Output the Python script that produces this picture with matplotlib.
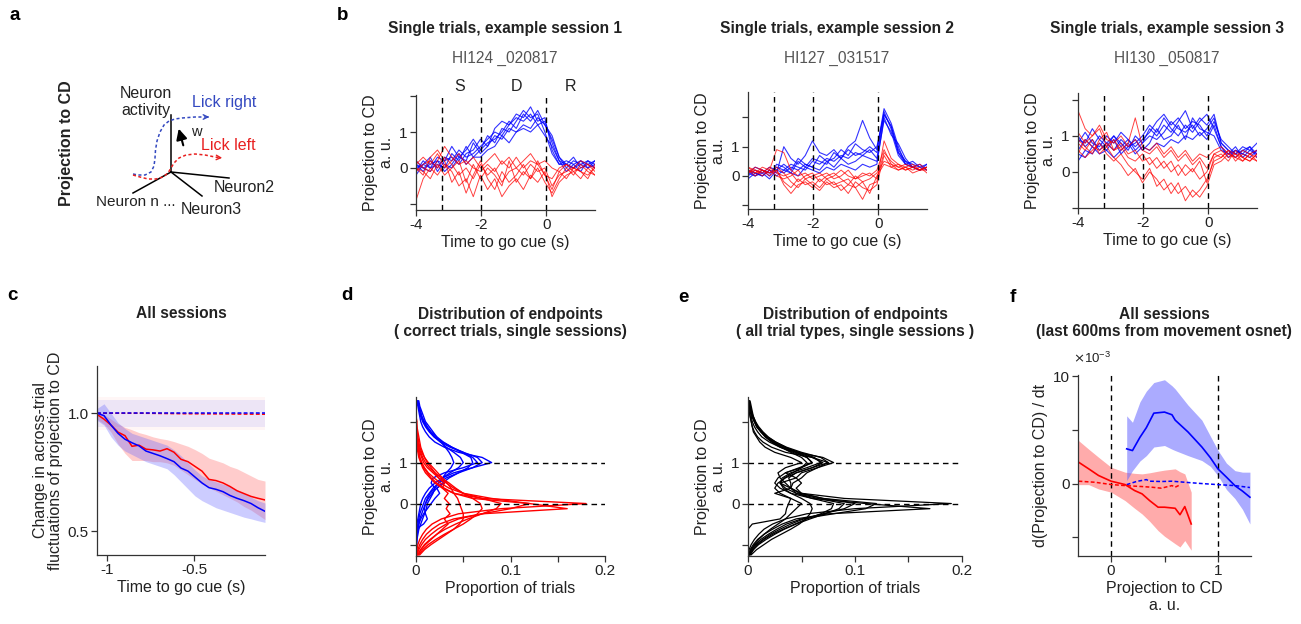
import numpy as np
import matplotlib
matplotlib.use("Agg")
import matplotlib.pyplot as plt
from matplotlib.transforms import blended_transform_factory

plt.rcParams['font.family'] = ['Liberation Sans', 'DejaVu Sans']
plt.rcParams['font.size'] = 10
plt.rcParams['axes.linewidth'] = 0.9
plt.rcParams['axes.unicode_minus'] = False

# ---------------- data ----------------
# panel b: single trials (projection to CD), time grid -4 .. 1.5 s
t_trials = np.linspace(-4.0, 1.5, 26)
s1_blue = [
    [0.1, -0.1, 0.2, 0.0, 0.3, 0.2, 0.5, 0.3, 0.4, 0.6, 0.8, 1.0, 0.9, 1.2, 1.4, 1.3, 1.5, 1.2, 1.3, 0.7, 0.2, 0.1, 0.0, 0.2, 0.1, 0.0],
    [-0.1, 0.2, 0.0, 0.1, 0.0, 0.4, 0.2, 0.6, 0.3, 0.5, 0.9, 0.7, 1.1, 1.0, 1.3, 1.6, 1.4, 1.5, 1.0, 0.4, 0.1, 0.2, 0.1, -0.1, 0.2, 0.1],
    [0.2, 0.0, -0.1, 0.2, 0.1, 0.0, 0.3, 0.2, 0.7, 0.4, 0.6, 0.9, 0.8, 1.1, 1.0, 1.2, 1.1, 1.4, 1.2, 0.8, 0.3, 0.0, 0.2, 0.1, 0.0, 0.2],
    [0.0, 0.1, 0.3, -0.1, 0.2, 0.3, 0.1, 0.4, 0.5, 0.8, 0.6, 1.1, 1.3, 1.2, 1.5, 1.4, 1.7, 1.3, 1.4, 0.5, 0.1, 0.1, 0.3, 0.0, 0.1, 0.2],
    [0.1, 0.0, 0.1, 0.2, -0.1, 0.1, 0.4, 0.1, 0.3, 0.3, 0.5, 0.6, 0.9, 0.7, 1.0, 1.1, 1.0, 1.2, 0.9, 0.6, 0.2, -0.1, 0.1, 0.2, 0.0, 0.1],
    [-0.2, 0.1, 0.0, 0.3, 0.2, 0.6, 0.3, 0.5, 0.8, 0.5, 0.7, 0.8, 1.0, 1.3, 1.1, 1.5, 1.3, 1.6, 1.2, 0.9, 0.3, 0.1, 0.0, 0.1, 0.2, 0.0],
]
s1_red = [
    [-0.1, 0.1, 0.2, 0.0, 0.3, 0.1, -0.2, 0.0, -0.3, 0.1, -0.2, 0.0, -0.4, -0.1, 0.0, -0.2, 0.1, -0.1, 0.0, -0.5, -0.2, -0.1, 0.0, -0.1, -0.2, 0.0],
    [0.0, -0.2, 0.3, 0.5, 0.2, -0.4, -0.1, -0.7, -0.2, 0.2, -0.3, -0.6, -0.1, -0.4, -0.2, 0.1, -0.3, 0.0, -0.4, -0.7, -0.3, 0.0, -0.2, 0.1, -0.1, -0.2],
    [0.2, 0.0, -0.1, 0.2, 0.6, 0.3, 0.1, 0.2, 0.0, -0.1, 0.1, -0.1, 0.2, 0.0, 0.3, 0.0, 0.2, 0.1, -0.2, -0.3, 0.0, 0.1, -0.1, 0.0, 0.1, -0.1],
    [-0.9, -0.3, 0.0, -0.2, 0.1, -0.1, -0.5, -0.3, -0.8, -0.2, -0.6, -0.3, -0.8, -0.5, -0.3, -0.6, -0.2, -0.4, -0.1, -0.8, -0.4, -0.2, -0.1, -0.3, 0.0, -0.2],
    [0.1, 0.3, 0.1, 0.4, 0.0, 0.2, 0.4, 0.1, 0.3, 0.0, 0.2, 0.4, 0.1, 0.3, 0.0, 0.2, 0.4, 0.1, 0.2, 0.0, -0.1, 0.1, 0.0, 0.2, 0.1, 0.0],
    [0.0, -0.1, -0.3, 0.1, -0.2, 0.0, 0.2, -0.4, 0.1, -0.3, 0.0, -0.2, -0.5, 0.2, -0.4, -0.1, -0.3, 0.2, -0.2, -0.6, -0.1, -0.3, 0.0, -0.1, -0.3, 0.1],
]
s2_blue = [
    [0.1, 0.0, 0.2, 0.1, 0.3, 0.2, 0.4, 0.3, 0.2, 0.5, 0.4, 0.6, 0.5, 0.7, 0.6, 0.8, 0.7, 0.9, 0.6, 2.1, 1.7, 0.9, 0.5, 0.3, 0.4, 0.2],
    [0.2, 0.1, 0.0, 0.2, 0.1, 1.0, 0.6, 0.4, 0.7, 1.2, 0.8, 0.7, 0.9, 0.6, 1.0, 1.2, 1.9, 1.3, 0.9, 2.3, 1.8, 1.0, 0.4, 0.3, 0.2, 0.3],
    [0.0, 0.2, 0.1, -0.1, 0.2, 0.1, 0.3, 0.2, 0.4, 0.3, 0.2, 0.5, 0.3, 0.6, 0.4, 0.5, 0.7, 0.6, 0.5, 1.9, 1.5, 0.7, 0.4, 0.3, 0.2, 0.4],
    [0.1, 0.3, 0.2, 0.0, 0.4, 0.3, 0.1, 0.5, 0.3, 0.6, 0.5, 0.4, 0.8, 0.6, 0.9, 0.7, 0.8, 1.0, 0.8, 2.2, 1.6, 0.8, 0.5, 0.4, 0.3, 0.2],
    [-0.1, 0.1, 0.0, 0.2, 0.0, 0.2, 0.1, 0.0, 0.3, 0.2, 0.1, 0.3, 0.2, 0.4, 0.3, 0.2, 0.4, 0.3, 0.4, 2.0, 1.4, 1.1, 0.6, 0.3, 0.2, 0.3],
    [0.2, 0.0, 0.1, 0.3, 0.2, 0.4, 0.2, 0.6, 0.4, 0.3, 0.7, 0.5, 0.6, 0.9, 0.7, 1.1, 0.9, 0.8, 1.0, 2.1, 1.7, 0.8, 0.4, 0.5, 0.3, 0.4],
]
s2_red = [
    [0.2, 0.1, 0.3, 0.2, 0.9, 0.8, 0.2, 0.0, 0.1, -0.1, 0.0, 0.1, -0.1, 0.0, 0.2, -0.1, 0.0, 0.1, -0.1, 0.8, 0.5, 0.3, 0.4, 0.3, 0.2, 0.3],
    [0.1, 0.3, 0.2, 0.1, 0.2, -0.3, -0.6, -0.3, -0.2, -0.4, -0.1, -0.3, -0.2, -0.5, -0.3, -0.4, -0.8, -0.3, -0.2, 1.2, 0.6, 0.4, 0.3, 0.2, 0.3, 0.1],
    [0.3, 0.2, 0.1, 0.3, 0.1, 0.0, 0.1, -0.2, 0.0, 0.1, -0.2, 0.0, 0.1, -0.1, -0.3, 0.0, -0.2, -0.1, 0.1, 0.5, 0.4, 0.2, 0.3, 0.4, 0.2, 0.2],
    [0.2, 0.0, 0.2, 0.1, 0.3, 0.1, -0.2, -0.4, -0.1, -0.3, -0.5, -0.2, -0.4, -0.3, -0.6, -0.2, -0.4, -0.5, -0.3, 0.7, 0.3, 0.2, 0.3, 0.1, 0.2, 0.3],
    [0.1, 0.2, 0.0, 0.2, 0.0, -0.1, 0.0, 0.2, -0.1, 0.0, 0.1, -0.1, 0.0, 0.2, 0.0, -0.1, 0.1, 0.0, 0.2, 0.9, 0.4, 0.3, 0.2, 0.3, 0.4, 0.2],
    [0.3, 0.1, 0.2, 0.0, 0.2, -0.2, -0.4, -0.1, -0.3, -0.2, -0.4, -0.1, -0.3, -0.2, -0.1, -0.4, -0.2, -0.6, 0.0, 0.4, 0.3, 0.4, 0.2, 0.3, 0.2, 0.3],
]
s3_blue = [
    [0.6, 0.9, 0.7, 1.0, 0.8, 0.6, 0.9, 0.7, 0.8, 1.0, 1.3, 1.1, 1.5, 1.2, 1.0, 1.3, 1.1, 1.4, 1.6, 1.2, 0.7, 0.5, 0.6, 0.5, 0.7, 0.5],
    [1.0, 0.7, 0.9, 0.6, 0.8, 1.0, 0.7, 0.9, 0.6, 0.8, 1.0, 0.9, 1.1, 1.4, 1.2, 1.1, 1.3, 1.0, 1.2, 1.5, 0.8, 0.6, 0.4, 0.6, 0.5, 0.6],
    [0.3, 0.6, 0.5, 0.8, 0.6, 0.9, 0.5, 0.7, 0.9, 0.6, 0.8, 1.2, 0.9, 1.0, 1.3, 0.9, 1.5, 1.2, 1.1, 1.0, 0.6, 0.5, 0.7, 0.4, 0.6, 0.5],
    [0.8, 1.1, 0.8, 0.7, 1.0, 0.8, 1.1, 0.9, 0.7, 0.9, 1.1, 1.4, 1.6, 1.3, 1.5, 1.2, 1.4, 1.3, 1.0, 1.4, 0.9, 0.7, 0.5, 0.7, 0.6, 0.8],
    [0.5, 0.4, 0.7, 0.5, 0.6, 0.4, 0.6, 0.8, 0.5, 0.7, 0.6, 0.8, 0.7, 0.9, 0.8, 1.0, 0.9, 1.1, 0.9, 1.3, 0.7, 0.4, 0.6, 0.5, 0.4, 0.6],
    [0.9, 0.8, 1.2, 0.9, 0.7, 1.0, 0.8, 0.6, 1.0, 0.8, 1.2, 1.0, 1.3, 1.1, 1.4, 1.7, 1.2, 1.5, 1.3, 1.6, 0.8, 0.6, 0.5, 0.6, 0.7, 0.4],
]
s3_red = [
    [1.7, 1.2, 1.0, 1.3, 0.9, 0.8, 1.0, 0.7, 0.9, 0.6, 0.5, 0.7, 0.4, 0.6, 0.3, 0.5, 0.2, 0.4, 0.1, 0.5, 0.6, 0.4, 0.5, 0.3, 0.5, 0.4],
    [0.8, 0.6, 0.9, 0.5, 0.7, 0.4, 0.2, -0.1, 0.1, -0.3, 0.0, -0.2, -0.5, -0.3, -0.6, -0.4, -0.7, -0.5, -0.2, 0.3, 0.4, 0.6, 0.3, 0.5, 0.4, 0.3],
    [0.5, 0.9, 0.7, 0.6, 0.8, 0.6, 0.7, 0.4, 0.3, 0.5, 0.2, 0.4, 0.1, 0.3, -0.1, 0.2, 0.0, 0.3, -0.3, 0.4, 0.5, 0.3, 0.6, 0.4, 0.3, 0.5],
    [1.1, 0.8, 1.0, 1.2, 0.7, 0.9, 0.6, 0.8, 1.5, 0.7, 0.6, 0.8, 0.5, 0.7, 0.4, 0.6, 0.3, 0.5, 0.4, 0.6, 0.7, 0.5, 0.4, 0.6, 0.5, 0.6],
    [0.6, 0.4, 0.6, 0.8, 0.5, 0.3, 0.5, 0.2, 0.0, -0.2, 0.1, -0.4, -0.2, -0.6, -0.3, -0.8, -0.5, -0.7, -0.4, 0.2, 0.3, 0.5, 0.4, 0.3, 0.5, 0.3],
    [0.9, 0.7, 0.5, 0.9, 1.1, 0.6, 0.8, 0.5, 0.6, 0.3, 0.4, 0.1, 0.3, 0.0, 0.2, -0.1, 0.1, -0.2, 0.0, 0.5, 0.4, 0.6, 0.5, 0.4, 0.3, 0.5],
]
session_titles = ["Single trials, example session 1", "Single trials, example session 2",
                  "Single trials, example session 3"]
session_ids = ["HI124 _020817", "HI127 _031517", "HI130 _050817"]
session_ylabels = ["Projection to CD\na. u.", "Projection to CD\na.u.", "Projection to CD\na. u."]
epoch_bounds = [-3.2, -2.0, 0.0]
epoch_names = ["S", "D", "R"]
epoch_centers = [-2.65, -0.92, 0.74]

# panel c: across-trial fluctuations
t_c = np.linspace(-1.06, -0.09, 25)
c_red = [0.995, 0.975, 0.95, 0.92, 0.905, 0.86, 0.865, 0.848, 0.845, 0.84, 0.85, 0.835, 0.805,
         0.795, 0.775, 0.755, 0.72, 0.715, 0.705, 0.69, 0.672, 0.66, 0.648, 0.64, 0.633]
c_red_hi = [1.01, 0.995, 0.975, 0.955, 0.94, 0.93, 0.918, 0.91, 0.9, 0.893, 0.888, 0.88, 0.87,
            0.86, 0.846, 0.83, 0.81, 0.8, 0.79, 0.775, 0.765, 0.75, 0.735, 0.72, 0.713]
c_red_lo = [0.975, 0.955, 0.92, 0.87, 0.83, 0.8, 0.80, 0.8, 0.795, 0.795, 0.79, 0.78, 0.76,
            0.74, 0.72, 0.7, 0.685, 0.67, 0.655, 0.64, 0.625, 0.605, 0.59, 0.57, 0.55]
c_blue = [1.0, 0.99, 0.95, 0.915, 0.89, 0.875, 0.862, 0.84, 0.83, 0.82, 0.808, 0.795, 0.768,
          0.755, 0.73, 0.705, 0.685, 0.678, 0.668, 0.652, 0.64, 0.63, 0.618, 0.6, 0.585]
c_blue_hi = [1.02, 1.04, 1.0, 0.96, 0.935, 0.915, 0.905, 0.895, 0.885, 0.875, 0.865, 0.845, 0.82,
             0.79, 0.76, 0.735, 0.72, 0.71, 0.7, 0.69, 0.675, 0.66, 0.645, 0.63, 0.62]
c_blue_lo = [0.97, 0.95, 0.9, 0.865, 0.84, 0.825, 0.81, 0.795, 0.785, 0.775, 0.765, 0.74, 0.71,
             0.68, 0.65, 0.63, 0.615, 0.6, 0.59, 0.58, 0.57, 0.56, 0.553, 0.545, 0.538]
t_c_ctrl = [-1.06, -0.8, -0.55, -0.3, -0.09]
c_red_ctrl = [1.0, 1.0, 0.998, 0.997, 0.996]
c_red_ctrl_hi = [1.067, 1.067, 1.067, 1.067, 1.067]
c_red_ctrl_lo = [0.93, 0.93, 0.93, 0.93, 0.93]
c_blue_ctrl = [1.0, 1.0, 1.0, 1.0, 1.0]
c_blue_ctrl_hi = [1.056, 1.056, 1.056, 1.056, 1.056]
c_blue_ctrl_lo = [0.94, 0.94, 0.94, 0.94, 0.94]

# panels d, e: distributions of endpoints (proportion of trials vs projection)
y_dist = np.linspace(-1.25, 2.5, 31)
d_red = [
    [0.0, 0.001, 0.002, 0.004, 0.007, 0.011, 0.017, 0.027, 0.045, 0.09,
     0.18, 0.07, 0.04, 0.028, 0.02, 0.015, 0.01, 0.007, 0.005, 0.003,
     0.002, 0.001, 0.001, 0, 0, 0, 0, 0, 0, 0, 0],
    [0.001, 0.002, 0.004, 0.007, 0.011, 0.017, 0.025, 0.04, 0.07, 0.16,
     0.12, 0.06, 0.04, 0.03, 0.022, 0.016, 0.012, 0.008, 0.006, 0.004,
     0.003, 0.002, 0.001, 0.001, 0, 0, 0, 0, 0, 0, 0],
    [0.001, 0.003, 0.006, 0.01, 0.016, 0.023, 0.032, 0.045, 0.07, 0.1,
     0.12, 0.08, 0.05, 0.035, 0.026, 0.019, 0.013, 0.009, 0.006, 0.004,
     0.003, 0.002, 0.001, 0.001, 0, 0, 0, 0, 0, 0, 0],
    [0.002, 0.005, 0.009, 0.015, 0.022, 0.031, 0.042, 0.055, 0.07, 0.085,
     0.09, 0.07, 0.05, 0.04, 0.032, 0.024, 0.018, 0.012, 0.008, 0.006,
     0.004, 0.003, 0.002, 0.001, 0.001, 0, 0, 0, 0, 0, 0],
    [0.003, 0.007, 0.013, 0.021, 0.03, 0.04, 0.05, 0.058, 0.065, 0.07,
     0.068, 0.06, 0.05, 0.042, 0.035, 0.027, 0.02, 0.014, 0.01, 0.007,
     0.005, 0.003, 0.002, 0.001, 0.001, 0, 0, 0, 0, 0, 0],
    [0.004, 0.009, 0.016, 0.024, 0.032, 0.04, 0.046, 0.05, 0.05, 0.048,
     0.046, 0.044, 0.04, 0.037, 0.033, 0.028, 0.023, 0.018, 0.013, 0.009,
     0.006, 0.004, 0.003, 0.002, 0.001, 0.001, 0, 0, 0, 0, 0],
    [0.002, 0.005, 0.01, 0.016, 0.022, 0.028, 0.034, 0.03, 0.036, 0.032,
     0.035, 0.03, 0.034, 0.028, 0.03, 0.024, 0.02, 0.016, 0.012, 0.009,
     0.007, 0.005, 0.004, 0.003, 0.002, 0.001, 0.001, 0, 0, 0, 0],
]
d_blue = [
    [0, 0, 0, 0, 0, 0.001, 0.001, 0.002, 0.003, 0.004,
     0.005, 0.007, 0.01, 0.014, 0.02, 0.028, 0.04, 0.06, 0.08, 0.07,
     0.045, 0.03, 0.02, 0.014, 0.01, 0.007, 0.005, 0.004, 0.003, 0.002, 0.001],
    [0, 0, 0, 0, 0.001, 0.001, 0.002, 0.003, 0.004, 0.006,
     0.008, 0.01, 0.014, 0.018, 0.024, 0.032, 0.045, 0.06, 0.07, 0.065,
     0.05, 0.036, 0.026, 0.019, 0.014, 0.01, 0.007, 0.005, 0.004, 0.003, 0.002],
    [0, 0, 0, 0.001, 0.001, 0.002, 0.003, 0.004, 0.006, 0.008,
     0.01, 0.013, 0.017, 0.022, 0.028, 0.035, 0.045, 0.055, 0.06, 0.058,
     0.048, 0.038, 0.029, 0.022, 0.016, 0.012, 0.009, 0.006, 0.005, 0.003, 0.002],
    [0, 0, 0, 0, 0.001, 0.002, 0.003, 0.005, 0.008, 0.012,
     0.016, 0.02, 0.025, 0.022, 0.03, 0.028, 0.036, 0.045, 0.05, 0.047,
     0.04, 0.032, 0.026, 0.02, 0.015, 0.011, 0.008, 0.006, 0.004, 0.003, 0.002],
    [0, 0, 0.001, 0.001, 0.002, 0.003, 0.005, 0.007, 0.009, 0.011,
     0.012, 0.015, 0.018, 0.02, 0.024, 0.028, 0.032, 0.037, 0.04, 0.038,
     0.035, 0.031, 0.027, 0.022, 0.018, 0.014, 0.01, 0.008, 0.006, 0.004, 0.003],
    [0, 0, 0, 0, 0, 0, 0.008, 0.012, 0.01, 0.009,
     0.01, 0.012, 0.015, 0.02, 0.016, 0.018, 0.03, 0.05, 0.065, 0.06,
     0.05, 0.038, 0.028, 0.02, 0.015, 0.011, 0.008, 0.006, 0.004, 0.003, 0.002],
]
e_all = [
    [0.0, 0.001, 0.003, 0.006, 0.01, 0.015, 0.023, 0.035, 0.055, 0.1,
     0.19, 0.09, 0.05, 0.04, 0.035, 0.03, 0.028, 0.035, 0.05, 0.04,
     0.025, 0.016, 0.011, 0.008, 0.005, 0.004, 0.003, 0.002, 0.001, 0.001, 0],
    [0.001, 0.002, 0.005, 0.009, 0.015, 0.023, 0.032, 0.045, 0.075, 0.17,
     0.11, 0.06, 0.045, 0.04, 0.04, 0.038, 0.045, 0.06, 0.075, 0.06,
     0.035, 0.022, 0.014, 0.009, 0.006, 0.004, 0.003, 0.002, 0.001, 0.001, 0],
    [0.001, 0.003, 0.007, 0.012, 0.019, 0.027, 0.036, 0.05, 0.08, 0.11,
     0.12, 0.07, 0.05, 0.045, 0.05, 0.045, 0.05, 0.065, 0.08, 0.07,
     0.045, 0.03, 0.02, 0.013, 0.009, 0.006, 0.004, 0.003, 0.002, 0.001, 0.001],
    [0.002, 0.005, 0.01, 0.017, 0.025, 0.034, 0.045, 0.058, 0.072, 0.085,
     0.09, 0.065, 0.045, 0.035, 0.03, 0.032, 0.04, 0.055, 0.068, 0.062,
     0.048, 0.034, 0.024, 0.017, 0.012, 0.008, 0.006, 0.004, 0.003, 0.002, 0.001],
    [0.002, 0.005, 0.009, 0.015, 0.023, 0.033, 0.044, 0.055, 0.068, 0.078,
     0.08, 0.06, 0.04, 0.03, 0.025, 0.028, 0.035, 0.048, 0.06, 0.055,
     0.042, 0.03, 0.022, 0.016, 0.012, 0.008, 0.006, 0.004, 0.003, 0.002, 0.001],
    [0.003, 0.008, 0.015, 0.022, 0.031, 0.04, 0.048, 0.054, 0.058, 0.06,
     0.058, 0.05, 0.04, 0.033, 0.03, 0.034, 0.042, 0.05, 0.055, 0.05,
     0.04, 0.031, 0.024, 0.018, 0.013, 0.009, 0.007, 0.005, 0.003, 0.002, 0.001],
    [0.001, 0.003, 0.006, 0.01, 0.015, 0.021, 0.028, 0.035, 0.04, 0.045,
     0.05, 0.04, 0.025, 0.04, 0.03, 0.045, 0.035, 0.05, 0.06, 0.055,
     0.045, 0.035, 0.026, 0.019, 0.014, 0.01, 0.007, 0.005, 0.004, 0.003, 0.002],
    [0, 0, 0, 0, 0, 0, 0.004, 0.03, 0.035, 0.036,
     0.038, 0.04, 0.03, 0.025, 0.028, 0.035, 0.045, 0.06, 0.07, 0.06,
     0.045, 0.032, 0.023, 0.017, 0.012, 0.009, 0.006, 0.004, 0.003, 0.002, 0.001],
    [0.001, 0.004, 0.008, 0.014, 0.021, 0.03, 0.04, 0.052, 0.07, 0.09,
     0.1, 0.07, 0.048, 0.04, 0.042, 0.05, 0.055, 0.065, 0.075, 0.068,
     0.05, 0.036, 0.026, 0.018, 0.013, 0.009, 0.006, 0.004, 0.003, 0.002, 0.001],
]
dist_reference_levels = [0, 1]

# panel f: d(projection)/dt vs projection (units of 1e-3)
f_blue_x = [0.146, 0.2, 0.27, 0.33, 0.4, 0.5, 0.57, 0.6, 0.72, 0.85, 0.93, 1.0, 1.08, 1.16, 1.23, 1.3]
f_blue = [3.23, 3.07, 4.3, 5.2, 6.55, 6.65, 6.4, 5.9, 4.8, 3.4, 2.4, 1.37, 0.6, -0.2, -0.7, -1.27]
f_blue_hi = [6.3, 5.7, 7.6, 8.6, 9.4, 9.66, 9.1, 8.8, 7.3, 5.9, 4.4, 3.1, 1.9, 1.2, 1.06, 1.06]
f_blue_lo = [0.28, 1.2, 2.1, 2.6, 3.4, 3.54, 3.2, 3.07, 2.6, 2.14, 1.6, 0.75, -0.55, -1.4, -2.4, -3.76]
f_red_x = [-0.305, -0.21, -0.118, 0.0, 0.13, 0.22, 0.29, 0.36, 0.44, 0.5, 0.6, 0.645, 0.69, 0.75]
f_red = [1.99, 1.37, 0.75, 0.22, -0.09, -0.65, -0.96, -1.58, -2.2, -2.2, -2.3, -2.9, -2.14, -3.76]
f_red_hi = [4.0, 3.2, 2.45, 1.52, 1.06, 0.95, 0.9, 1.0, 1.15, 1.25, 1.37, 1.1, 0.9, -0.8]
f_red_lo = [-0.1, -0.1, -0.5, -0.8, -1.58, -2.3, -2.83, -3.5, -4.38, -4.9, -5.6, -5.9, -5.3, -6.2]
f_red_ctrl_x = [-0.305, -0.15, 0.0, 0.13, 0.29, 0.38, 0.47, 0.57, 0.6, 0.645]
f_red_ctrl = [0.22, 0.12, -0.09, -0.19, -0.28, -0.34, -0.43, -0.19, -0.34, -0.12]
f_blue_ctrl_x = [0.146, 0.24, 0.33, 0.36, 0.47, 0.57, 0.69, 0.85, 1.0, 1.16, 1.3]
f_blue_ctrl = [-0.1, 0.2, 0.37, 0.22, 0.19, 0.22, 0.12, 0.0, -0.1, -0.19, -0.37]
f_ref_x = [0, 1]

# ---------------- figure ----------------
W, H = 1301, 624
fig = plt.figure(figsize=(W / 100, H / 100), dpi=100)
TXT = '#222222'
BLUE = '#0000ff'
RED = '#ff0000'
LAB = 11.5
TTL = 11.2


def px_axes(l, t, r, b):
    return fig.add_axes([l / W, 1 - b / H, (r - l) / W, (b - t) / H])


def style(ax):
    for s in ['top', 'right']:
        ax.spines[s].set_visible(False)
    for s in ['left', 'bottom']:
        ax.spines[s].set_color('#333333')
        ax.spines[s].set_linewidth(0.9)
    ax.tick_params(direction='out', length=4, width=0.9, colors='#333333',
                   labelsize=11, labelcolor=TXT, pad=2)
    ax.set_facecolor('none')


def ftext(x, y, s, **kw):
    kw.setdefault('color', TXT)
    fig.text(x / W, 1 - y / H, s, **kw)


# overlay for panel labels and schematic
ov = fig.add_axes([0, 0, 1, 1], zorder=-1)
ov.set_xlim(0, W)
ov.set_ylim(H, 0)
ov.axis('off')

for lab, (x, y) in zip('abcdef', [(15, 15), (343, 15), (12, 296), (347, 296), (683, 297), (1013, 297)]):
    ov.text(x, y, lab, fontsize=13.5, fontweight='bold', ha='center', va='center', color='black')

# ---- panel a schematic ----
ov.plot([171, 171], [115, 172], color='black', lw=1.1)
ov.plot([171, 229], [172, 178], color='black', lw=1.1)
ov.plot([171, 202], [172, 196], color='black', lw=1.1)
ov.plot([171, 133], [172, 193], color='black', lw=1.1)
bc = np.array([(133, 174), (138, 175), (145, 175), (151, 172), (154, 166), (155, 158), (155.5, 150),
               (157, 141), (160, 132), (164, 125), (169, 121), (175, 119), (182, 118), (195, 117), (208, 117)])
ov.plot(bc[:, 0], bc[:, 1], color='#3348c0', lw=1.1, ls=(0, (2, 1.6)))
ov.annotate('', xy=(212, 117), xytext=(204, 117),
            arrowprops=dict(arrowstyle='->', color='#3348c0', lw=1.0, mutation_scale=8))
rc = np.array([(133, 175), (140, 177), (148, 179), (156, 179), (163, 177), (168, 173), (171, 168),
               (174, 163), (179, 158), (186, 155), (195, 154), (205, 155), (215, 157), (221, 158)])
ov.plot(rc[:, 0], rc[:, 1], color='#e82020', lw=1.1, ls=(0, (2, 1.6)))
ov.annotate('', xy=(225, 158), xytext=(217, 157.5),
            arrowprops=dict(arrowstyle='->', color='#e82020', lw=1.0, mutation_scale=8))
ov.annotate('', xy=(178, 126), xytext=(184, 148),
            arrowprops=dict(arrowstyle='-|>', color='black', lw=1.5, mutation_scale=16))
ov.text(146, 102, 'Neuron\nactivity', fontsize=11.5, ha='center', va='center', color=TXT, linespacing=1.1)
ov.text(192, 103, 'Lick right', fontsize=11.5, ha='left', va='center', color='#3348c0')
ov.text(191, 132, 'w', fontsize=10.5, ha='left', va='center', color=TXT)
ov.text(201, 146, 'Lick left', fontsize=11.5, ha='left', va='center', color='#e82020')
ov.text(214, 187, 'Neuron2', fontsize=11.5, ha='left', va='center', color=TXT)
ov.text(96, 202, 'Neuron n ...', fontsize=11, ha='left', va='center', color=TXT)
ov.text(181, 210, 'Neuron3', fontsize=11.5, ha='left', va='center', color=TXT)
ov.text(66, 143, 'Projection to CD', fontsize=11.5, fontweight='bold', rotation=90,
        ha='center', va='center', color=TXT)

# ---- panel b ----
b_boxes = [(416, 95, 595, 210), (748, 92, 927, 209), (1078, 93, 1257, 208)]
b_ylims = [(-1.17, 2.03), (-1.13, 2.87), (-1.0, 2.19)]
b_centers = [505, 837, 1167]
sessions = [(s1_blue, s1_red), (s2_blue, s2_red), (s3_blue, s3_red)]
for i, (box, yl, (blues, reds)) in enumerate(zip(b_boxes, b_ylims, sessions)):
    ax = px_axes(*box)
    style(ax)
    for tr in blues:
        ax.plot(t_trials, tr, color=BLUE, lw=0.8, alpha=0.8)
    for tr in reds:
        ax.plot(t_trials, tr, color=RED, lw=0.7, alpha=0.75)
    for xb in epoch_bounds:
        ax.axvline(xb, color='black', lw=1.0, ls=(0, (4, 3)))
    ax.set_xlim(-4, 1.5)
    ax.set_ylim(*yl)
    ax.set_xticks([-4, -2, 0])
    ax.set_xticklabels(['-4', '-2', '0'])
    ax.set_yticks([-1, 0, 1, 2])
    ax.set_yticklabels(['', '0', '1', ''])
    ax.set_xlabel('Time to go cue (s)', fontsize=LAB, color=TXT, labelpad=2)
    ax.set_ylabel(session_ylabels[i], fontsize=LAB, color=TXT, labelpad=4, linespacing=1.05)
    ftext(b_centers[i], 28, session_titles[i], fontsize=TTL, fontweight='bold', ha='center', va='center')
    ftext(b_centers[i], 58, session_ids[i], fontsize=TTL, ha='center', va='center', color='#555555')
    if i == 0:
        tr_ = blended_transform_factory(ax.transData, ax.transAxes)
        for xc, nm in zip(epoch_centers, epoch_names):
            ax.text(xc, 1.07, nm, transform=tr_, ha='center', va='center', fontsize=11.5, color=TXT)

# ---- panel c ----
axc = px_axes(97, 366, 265, 555)
style(axc)
axc.fill_between(t_c_ctrl, c_red_ctrl_lo, c_red_ctrl_hi, color='#ff9090', alpha=0.08, lw=0)
axc.fill_between(t_c_ctrl, c_blue_ctrl_lo, c_blue_ctrl_hi, color='#6060ff', alpha=0.11, lw=0)
axc.fill_between(t_c, c_red_lo, c_red_hi, color='#ff6666', alpha=0.33, lw=0)
axc.fill_between(t_c, c_blue_lo, c_blue_hi, color='#6666ff', alpha=0.33, lw=0)
axc.plot(t_c_ctrl, c_red_ctrl, color=RED, lw=1.1, ls=(0, (2.5, 1.5)))
axc.plot(t_c_ctrl, c_blue_ctrl, color=BLUE, lw=1.1, ls=(0, (2.5, 1.5)))
axc.plot(t_c, c_red, color=RED, lw=1.1)
axc.plot(t_c, c_blue, color=BLUE, lw=1.1)
axc.set_xlim(-1.06, -0.09)
axc.set_ylim(0.4, 1.2)
axc.set_xticks([-1, -0.5])
axc.set_xticklabels(['-1', '-0.5'])
axc.set_yticks([0.5, 1.0])
axc.set_yticklabels(['0.5', '1.0'])
axc.set_xlabel('Time to go cue (s)', fontsize=LAB, color=TXT, labelpad=2)
axc.set_ylabel('Change in across-trial\nfluctuations of projection to CD', fontsize=LAB,
               color=TXT, labelpad=3, linespacing=1.05)
ftext(181, 313, 'All sessions', fontsize=TTL, fontweight='bold', ha='center', va='center')

# ---- panels d, e ----
for box, center, title in [((416, 397, 605, 556), 510, 'Distribution of endpoints\n( correct trials, single sessions)'),
                           ((748, 397, 962, 556), 855, 'Distribution of endpoints\n( all trial types, single sessions )')]:
    ax = px_axes(*box)
    style(ax)
    if center == 510:
        for cv in d_blue:
            ax.plot(cv, y_dist, color=BLUE, lw=1.0)
        for cv in d_red:
            ax.plot(cv, y_dist, color=RED, lw=1.0)
    else:
        for cv in e_all:
            ax.plot(cv, y_dist, color='black', lw=0.9)
    for yv in dist_reference_levels:
        ax.plot([0, 0.2], [yv, yv], color='black', lw=1.0, ls=(0, (4, 3)))
    ax.set_xlim(0, 0.2)
    ax.set_ylim(-1.28, 2.6)
    ax.set_xticks([0, 0.05, 0.1, 0.15, 0.2])
    ax.set_xticklabels(['0', '', '0.1', '', '0.2'])
    ax.set_yticks([-1, 0, 1, 2])
    ax.set_yticklabels(['', '0', '1', ''])
    ax.set_xlabel('Proportion of trials', fontsize=LAB, color=TXT, labelpad=2)
    ax.set_ylabel('Projection to CD\na. u.', fontsize=LAB, color=TXT, labelpad=4, linespacing=1.05)
    ftext(center, 323, title, fontsize=TTL, fontweight='bold', ha='center', va='center', linespacing=1.2)

# ---- panel f ----
axf = px_axes(1078, 375, 1251, 556)
style(axf)
axf.fill_between(f_red_x, f_red_lo, f_red_hi, color='#ff6666', alpha=0.55, lw=0)
axf.fill_between(f_blue_x, f_blue_lo, f_blue_hi, color='#6666ff', alpha=0.55, lw=0)
for xv in f_ref_x:
    axf.axvline(xv, color='black', lw=1.0, ls=(0, (4, 3)))
axf.plot(f_red_ctrl_x, f_red_ctrl, color=RED, lw=1.1, ls=(0, (2.5, 1.5)))
axf.plot(f_blue_ctrl_x, f_blue_ctrl, color=BLUE, lw=1.1, ls=(0, (2.5, 1.5)))
axf.plot(f_red_x, f_red, color=RED, lw=1.2)
axf.plot(f_blue_x, f_blue, color=BLUE, lw=1.2)
axf.set_xlim(-0.31, 1.31)
axf.set_ylim(-6.74, 10.1)
axf.set_xticks([0, 0.5, 1])
axf.set_xticklabels(['0', '', '1'])
axf.set_yticks([-5, 0, 5, 10])
axf.set_yticklabels(['', '0', '', '10'])
axf.set_xlabel('Projection to CD\na. u.', fontsize=LAB, color=TXT, labelpad=2, linespacing=1.15)
axf.set_ylabel('d(Projection to CD) / dt', fontsize=LAB, color=TXT, labelpad=3)
ftext(1092, 358, r'$\times$10$^{\mathregular{-3}}$', fontsize=9.5, ha='center', va='center')
ftext(1164, 323, 'All sessions\n(last 600ms from movement osnet)', fontsize=TTL,
      fontweight='bold', ha='center', va='center', linespacing=1.2)

fig.savefig('out.png', dpi=100)
